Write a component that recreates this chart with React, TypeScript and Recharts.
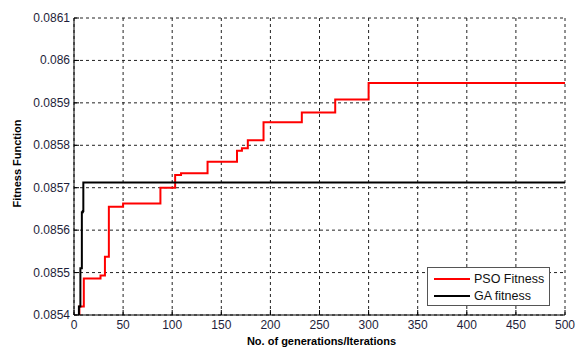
import React from 'react';
import { LineChart, Line, XAxis, YAxis, CartesianGrid } from 'recharts';

const psoIterations = [5, 5.5, 10, 27, 31.5, 35.5, 50, 88, 103, 109, 136, 166, 171, 177, 193, 232, 266, 300, 500];
const psoFitness = [0.0854, 0.08542, 0.085486, 0.085493, 0.085537, 0.085655, 0.085663, 0.0857, 0.08573, 0.085734, 0.085761, 0.085787, 0.085793, 0.085812, 0.085854, 0.085877, 0.085908, 0.085947, 0.085947];
const gaIterations = [4.5, 5, 6.5, 8, 9, 9.5, 500];
const gaFitness = [0.0854, 0.08542, 0.08551, 0.085642, 0.085645, 0.085712, 0.085712];

const xTicks = [0, 50, 100, 150, 200, 250, 300, 350, 400, 450, 500];
const yTicks = [0.0854, 0.0855, 0.0856, 0.0857, 0.0858, 0.0859, 0.086, 0.0861];

const seriesNames = ['PSO Fitness', 'GA fitness'];
const seriesColors = ['#ff0000', '#000000'];

const psoData = psoIterations.map((x, i) => ({ x, y: psoFitness[i] }));
const gaData = gaIterations.map((x, i) => ({ x, y: gaFitness[i] }));

const FONT = '"Liberation Sans", Arial, sans-serif';
const TICK_COLOR = '#1e1e3a';

const fmtY = (v: number) => String(Number(v.toFixed(4)));

const XTick = (props: any) => {
  const { x, y, payload } = props;
  return (
    <g>
      <line x1={x} x2={x} y1={y} y2={y - 5} stroke="#000" />
      <text x={x} y={y + 14} textAnchor="middle" fontSize={12} fill={TICK_COLOR} fontFamily={FONT}>
        {payload.value}
      </text>
    </g>
  );
};

const XTopTick = (props: any) => {
  const { x, y } = props;
  return <line x1={x} x2={x} y1={y} y2={y + 5} stroke="#000" />;
};

const YTick = (props: any) => {
  const { x, y, payload } = props;
  return (
    <g>
      <line x1={x} x2={x + 5} y1={y} y2={y} stroke="#000" />
      <text x={x - 4} y={y + 4} textAnchor="end" fontSize={12} fill={TICK_COLOR} fontFamily={FONT}>
        {fmtY(payload.value)}
      </text>
    </g>
  );
};

const YRightTick = (props: any) => {
  const { x, y } = props;
  return <line x1={x} x2={x - 5} y1={y} y2={y} stroke="#000" />;
};

const YLabel = (props: any) => {
  const { viewBox } = props;
  const cx = viewBox.x + 20;
  const cy = viewBox.y + viewBox.height / 2 - 3;
  return (
    <text x={cx} y={cy} transform={`rotate(-90 ${cx} ${cy})`} textAnchor="middle" fontSize={11} fontWeight="bold" fill="#000" fontFamily={FONT}>
      Fitness Function
    </text>
  );
};

const XLabel = (props: any) => {
  const { viewBox } = props;
  const cx = viewBox.x + viewBox.width / 2 + 2;
  const cy = viewBox.y + 30;
  return (
    <text x={cx} y={cy} textAnchor="middle" fontSize={11} fontWeight="bold" fill="#000" fontFamily={FONT}>
      No. of generations/Iterations
    </text>
  );
};

const LegendBox = () => (
  <div
    style={{
      position: 'absolute',
      left: 427,
      top: 267,
      border: '1px solid #555',
      background: '#fff',
      width: 123,
      height: 39,
      boxSizing: 'border-box',
      fontFamily: FONT,
      fontSize: 12.5,
      color: '#111',
      padding: '2px 0 0 6px',
    }}
  >
    {seriesNames.map((n, i) => (
      <div key={n} style={{ display: 'flex', alignItems: 'center', height: 17 }}>
        <svg width={36} height={10} style={{ marginRight: 4 }}>
          <line x1={0} x2={36} y1={5} y2={5} stroke={seriesColors[i]} strokeWidth={2} />
        </svg>
        <span>{n}</span>
      </div>
    ))}
  </div>
);

export default function App() {
  return (
    <div style={{ position: 'absolute', left: 0, top: 0, width: 578, height: 348, background: '#fff' }}>
      <LineChart width={578} height={348} margin={{ top: 17, right: 12, bottom: 0, left: 1 }}>
        <CartesianGrid stroke="#222" strokeDasharray="3 3" />
        <XAxis
          xAxisId={0}
          dataKey="x"
          type="number"
          domain={[0, 500]}
          ticks={xTicks}
          allowDuplicatedCategory={false}
          height={33}
          tickSize={0}
          tickMargin={0}
          tickLine={false}
          axisLine={{ stroke: '#000' }}
          tick={<XTick />}
          interval={0}
          label={<XLabel />}
        />
        <XAxis
          xAxisId="top"
          orientation="top"
          dataKey="x"
          type="number"
          domain={[0, 500]}
          ticks={xTicks}
          height={1}
          tickSize={0}
          tickMargin={0}
          tickLine={false}
          axisLine={false}
          tick={<XTopTick />}
          interval={0}
        />
        <YAxis
          yAxisId={0}
          type="number"
          domain={[0.0854, 0.0861]}
          ticks={yTicks}
          width={73}
          tickSize={0}
          tickMargin={0}
          tickLine={false}
          axisLine={{ stroke: '#000' }}
          tick={<YTick />}
          interval={0}
          allowDataOverflow
          label={<YLabel />}
        />
        <YAxis
          yAxisId="right"
          orientation="right"
          type="number"
          domain={[0.0854, 0.0861]}
          ticks={yTicks}
          width={1}
          tickSize={0}
          tickMargin={0}
          tickLine={false}
          axisLine={false}
          tick={<YRightTick />}
          interval={0}
        />
        <Line
          data={psoData}
          dataKey="y"
          type="stepAfter"
          stroke="#ff0000"
          strokeWidth={2}
          dot={false}
          isAnimationActive={false}
          name={seriesNames[0]}
        />
        <Line
          data={gaData}
          dataKey="y"
          type="stepAfter"
          stroke="#000000"
          strokeWidth={2}
          dot={false}
          isAnimationActive={false}
          name={seriesNames[1]}
        />
      </LineChart>
      <LegendBox />
    </div>
  );
}
